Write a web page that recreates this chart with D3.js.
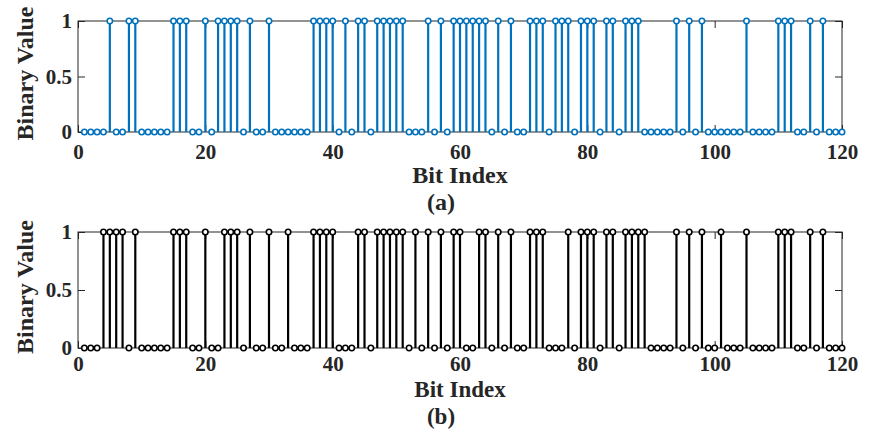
<!DOCTYPE html>
<html>
<head>
<meta charset="utf-8">
<script src="https://cdn.jsdelivr.net/npm/d3@7"></script>
<style>
  body { margin: 0; background: #fff; }
  text { font-family: "Liberation Serif", "Times New Roman", serif; font-weight: bold; fill: #262626; }
</style>
</head>
<body>
<script>
// bit streams, index 1..120
var bitsA = [
    0,0,0,0,1,0,0,1,1,0, 0,0,0,0,1,1,1,0,0,1,
    0,1,1,1,1,0,1,0,0,1, 0,0,0,0,0,0,1,1,1,1,
    0,1,0,1,1,0,1,1,1,1, 1,0,0,0,1,0,1,0,1,1,
    1,1,1,1,0,1,0,1,0,0, 1,1,1,0,1,1,1,0,1,1,
    1,0,1,1,0,1,1,1,0,0, 0,0,0,1,0,1,0,1,0,0,
    0,0,0,0,1,0,0,0,0,1, 1,1,0,0,1,0,1,0,0,0
]
var bitsB = [
    0,0,0,1,1,1,1,0,1,0, 0,0,0,0,1,1,1,0,0,1,
    0,0,1,1,1,0,1,0,0,1, 0,0,1,0,0,0,1,1,1,1,
    0,0,0,1,1,0,1,1,1,1, 1,0,1,0,1,0,1,0,1,1,
    0,0,1,1,0,1,0,1,0,0, 1,1,1,0,0,0,1,0,1,1,
    1,0,1,1,0,1,1,1,1,0, 0,0,0,1,0,1,0,1,0,0,
    1,0,0,0,1,0,0,0,0,1, 1,1,0,0,1,0,1,0,0,0
]
var xTicks = [0, 20, 40, 60, 80, 100, 120]
var yTicks = [0, 0.5, 1]
var xLabel = "Bit Index"
var yLabel = "Binary Value"
var panelLabels = ["(a)", "(b)"]
var panelColors = ["#0072BD", "#000000"]

var width = 878,
    height = 431

var svg = d3.select("body")
    .append("svg")
    .attr("width", width)
    .attr("height", height)

var x = d3.scaleLinear()
    .domain([0, 120])
    .range([78, 842])

// per panel layout: vertical range of the axes and where the captions sit
var panels = [
    {bits: bitsA, top: 21, bottom: 132, pad: 12, xlab: 51, lsize: 24, cap: 78},
    {bits: bitsB, top: 232, bottom: 348, pad: 8, xlab: 49, lsize: 23, cap: 76}
]

panels.forEach(function (p, k) {
    var color = panelColors[k]
    var y = d3.scaleLinear()
        .domain([0, 1])
        .range([p.bottom, p.top])

    var g = svg.append("g")

    g.append("rect")
        .attr("x", x(0))
        .attr("y", y(1))
        .attr("width", x(120) - x(0))
        .attr("height", y(0) - y(1))
        .attr("fill", "none")
        .attr("stroke", "#262626")
        .attr("stroke-width", 1)

    // ticks point inward on all four sides, labels only left and bottom
    var fmt = d3.format("~g")
    var axes = [
        {ax: d3.axisBottom(x).tickValues(xTicks).tickFormat(fmt).tickPadding(p.pad), t: "translate(0," + y(0) + ")"},
        {ax: d3.axisTop(x).tickValues(xTicks).tickFormat(""), t: "translate(0," + y(1) + ")"},
        {ax: d3.axisLeft(y).tickValues(yTicks).tickFormat(fmt).tickPadding(6), t: "translate(" + x(0) + ",0)"},
        {ax: d3.axisRight(y).tickValues(yTicks).tickFormat(""), t: "translate(" + x(120) + ",0)"}
    ]
    axes.forEach(function (a) {
        var ag = g.append("g")
            .attr("transform", a.t)
            .call(a.ax.tickSizeInner(-7).tickSizeOuter(0))
        ag.select(".domain").remove()
        ag.selectAll("line").attr("stroke", "#262626")
        ag.selectAll("text")
            .attr("font-size", 21)
            .attr("font-family", null)
            .attr("fill", "#262626")
    })

    var idx = d3.range(1, p.bits.length + 1)

    g.selectAll("line.stem")
        .data(idx)
        .enter()
        .append("line")
            .attr("class", "stem")
            .attr("x1", function (d) { return x(d) })
            .attr("x2", function (d) { return x(d) })
            .attr("y1", y(0))
            .attr("y2", function (d) { return y(p.bits[d - 1]) })
            .attr("stroke", color)
            .attr("stroke-width", 2.2)

    g.selectAll("circle.mark")
        .data(idx)
        .enter()
        .append("circle")
            .attr("class", "mark")
            .attr("cx", function (d) { return x(d) })
            .attr("cy", function (d) { return y(p.bits[d - 1]) })
            .attr("r", 2.7)
            .attr("fill", "#fff")
            .attr("stroke", color)
            .attr("stroke-width", 1.6)

    g.append("text")
        .attr("x", (x(0) + x(120)) / 2)
        .attr("y", y(0) + p.xlab)
        .attr("text-anchor", "middle")
        .attr("font-size", p.lsize)
        .text(xLabel)

    g.append("text")
        .attr("transform", "translate(33," + ((y(0) + y(1)) / 2 - 3) + ") rotate(-90)")
        .attr("text-anchor", "middle")
        .attr("font-size", 24)
        .text(yLabel)

    g.append("text")
        .attr("x", 441)
        .attr("y", y(0) + p.cap)
        .attr("text-anchor", "middle")
        .attr("font-size", p.lsize)
        .text(panelLabels[k])
})
</script>
</body>
</html>
